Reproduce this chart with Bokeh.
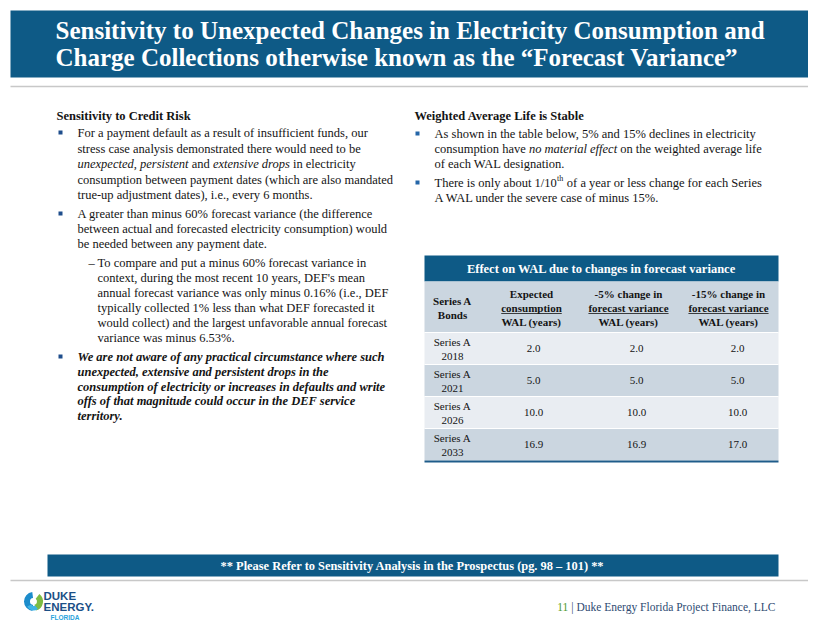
import glob
from bokeh.plotting import figure
from bokeh.models import Range1d
from bokeh.core.properties import value
from bokeh.embed import file_html
from bokeh.resources import INLINE

# ---------------- data ----------------
title_lines = ["Sensitivity to Unexpected Changes in Electricity Consumption and",
               "Charge Collections otherwise known as the \u201cForecast Variance\u201d"]
table_title = "Effect on WAL due to changes in forecast variance"
col_heads = [["Series A", "Bonds"],
             ["Expected", "consumption", "WAL (years)"],
             ["-5% change in", "forecast variance", "WAL (years)"],
             ["-15% change in", "forecast variance", "WAL (years)"]]
bond_years = ["2018", "2021", "2026", "2033"]
wal_expected = [2.0, 5.0, 10.0, 16.9]
wal_minus5 = [2.0, 5.0, 10.0, 16.9]
wal_minus15 = [2.0, 5.0, 10.0, 17.0]
banner_text = "** Please Refer to Sensitivity Analysis in the Prospectus (pg. 98 \u2013 101) **"
footer_num = "11"
footer_text = " | Duke Energy Florida Project Finance, LLC"

SERIF = "Liberation Serif"
NAVY = "#0E5A86"
TXT = "#141414"

# ---------------- text width measurement ----------------
_fonts = {}
try:
    from PIL import ImageFont
    _paths = {
        "normal": "LiberationSerif-Regular.ttf",
        "italic": "LiberationSerif-Italic.ttf",
        "bold": "LiberationSerif-Bold.ttf",
        "bold italic": "LiberationSerif-BoldItalic.ttf",
    }
    for k, fn in _paths.items():
        found = glob.glob("/usr/share/fonts/**/" + fn, recursive=True)
        if found:
            _fonts[k] = found[0]
except Exception:
    ImageFont = None

_reg = dict(zip(" ,.-/()%|", [250, 250, 250, 333, 278, 333, 333, 833, 200]))
_reg.update(dict(zip("abcdefghijklmnopqrstuvwxyz",
                     [444, 500, 444, 500, 444, 333, 500, 500, 278, 278, 500, 278, 778, 500, 500, 500, 500, 333, 389, 278, 500, 500, 722, 500, 500, 444])))
_reg.update(dict(zip("ABCDEFGHIJKLMNOPQRSTUVWXYZ",
                     [722, 667, 667, 722, 611, 556, 722, 722, 333, 389, 722, 611, 889, 722, 722, 556, 722, 667, 556, 611, 722, 722, 944, 722, 722, 611])))
for d in "0123456789":
    _reg[d] = 500
_ita = dict(_reg)
_ita.update(dict(zip("abcdefghijklmnopqrstuvwxyz",
                     [500, 500, 444, 500, 444, 278, 500, 500, 278, 278, 444, 278, 722, 500, 500, 500, 500, 389, 389, 278, 500, 444, 667, 444, 444, 389])))
_bld = dict(_reg)
_bld.update(dict(zip("abcdefghijklmnopqrstuvwxyz",
                     [500, 556, 444, 556, 444, 333, 500, 556, 278, 333, 556, 278, 833, 556, 500, 556, 556, 444, 389, 333, 556, 500, 722, 500, 500, 444])))
_tables = {"normal": _reg, "italic": _ita, "bold": _bld, "bold italic": _bld}


def tw(s, style, size):
    if ImageFont is not None and style in _fonts:
        try:
            return ImageFont.truetype(_fonts[style], 100).getlength(s) * size / 100.0
        except Exception:
            pass
    t = _tables[style]
    return sum(t.get(c, 500) for c in s) * size / 1000.0


# ---------------- figure ----------------
p = figure(width=808, height=621, x_range=Range1d(0, 808), y_range=Range1d(621, 0),
           x_axis_type=None, y_axis_type=None, toolbar_location=None,
           output_backend="svg", min_border=0, outline_line_color=None,
           background_fill_color="white", border_fill_color="white")
p.grid.visible = False


def txt(x, y, s, size, style="normal", color=TXT, align="left", font=SERIF, baseline="middle"):
    if align == "left":
        lead = len(s) - len(s.lstrip(" "))
        if lead:
            x += tw(" " * lead, style, size)
            s = s.lstrip(" ")
    p.text(x=[x], y=[y], text=[s], text_font=value(font), text_font_style=value(style),
           text_font_size=value(f"{size}px"), text_color=value(color),
           text_align=value(align), text_baseline=value(baseline))


def rich(x, y, segs, size, color=TXT):
    cx = x
    for s, style in segs:
        txt(cx, y, s, size, style, color)
        cx += tw(s, style, size)
    return cx


def bullet(x, y, color="#1F4E8C"):
    p.scatter(x=[x], y=[y], marker="square", size=4, fill_color=color, line_color=None)


# header band
p.quad(left=[10], right=[814], top=[10], bottom=[77], fill_color=NAVY, line_color=None)
for i, line in enumerate(title_lines):
    txt(55, [29.5, 57][i], line, 25, "bold", "white")
p.line(x=[10, 814], y=[86, 86], line_color="#C8C8C8", line_width=1.5)

# ---------------- left column ----------------
BS = 12.5
txt(56, 115, "Sensitivity to Credit Risk", BS, "bold")
bullet(60, 132)
L = 77
txt(L, 132, "For a payment default as a result of insufficient funds, our", BS)
txt(L, 148, "stress case analysis demonstrated there would need to be", BS)
rich(L, 163, [("unexpected", "italic"), (", ", "normal"), ("persistent", "italic"),
              (" and ", "normal"), ("extensive drops", "italic"), (" in electricity", "normal")], BS)
txt(L, 179, "consumption between payment dates (which are also mandated", BS)
txt(L, 194, "true-up adjustment dates), i.e., every 6 months.", BS)
bullet(60, 213)
txt(L, 213, "A greater than minus 60% forecast variance (the difference", BS)
txt(L, 228, "between actual and forecasted electricity consumption) would", BS)
txt(L, 243, "be needed between any payment date.", BS)
txt(88, 262, "\u2013", BS)
S = 97
sub = ["To compare and put a minus 60% forecast variance in",
       "context, during the most recent 10 years, DEF's mean",
       "annual forecast variance was only minus 0.16% (i.e., DEF",
       "typically collected 1% less than what DEF forecasted it",
       "would collect) and the largest unfavorable annual forecast",
       "variance was minus 6.53%."]
for i, s in enumerate(sub):
    txt(S, [262, 277, 292, 307, 322, 337][i], s, BS)
bullet(60, 356)
b3 = ["We are not aware of any practical circumstance where such",
      "unexpected, extensive and persistent drops in the",
      "consumption of electricity or increases in defaults and write",
      "offs of that magnitude could occur in the DEF service",
      "territory."]
for i, s in enumerate(b3):
    txt(L, [356, 371, 386, 400, 415][i], s, BS, "bold italic")

# ---------------- right column ----------------
txt(414, 115, "Weighted Average Life is Stable", BS, "bold")
R = 434
bullet(417, 133, "#2566A8")
txt(R, 133, "As shown in the table below, 5% and 15% declines in electricity", BS)
rich(R, 148, [("consumption have ", "normal"), ("no material effect", "italic"),
              (" on the weighted average life", "normal")], BS)
txt(R, 163, "of each WAL designation.", BS)
bullet(417, 182, "#2566A8")
xe = rich(R, 182, [("There is only about 1/10", "normal")], BS)
txt(xe + 0.3, 178, "th", 8)
txt(xe + tw("th", "normal", 8) + 0.8, 182, " of a year or less change for each Series", BS)
txt(R, 197, "A WAL under the severe case of minus 15%.", BS)

# ---------------- table ----------------
TL, TR = 424, 778
p.quad(left=[TL], right=[TR], top=[255], bottom=[281], fill_color=NAVY, line_color=None)
txt((TL + TR) / 2, 268, table_title, 12.5, "bold", "white", "center")
p.quad(left=[TL], right=[TR], top=[281], bottom=[332], fill_color="#CBD6E0", line_color=None)
head_x = [452, 531, 628, 728]
for ci, lines in enumerate(col_heads):
    ys = [300, 314] if len(lines) == 2 else [293, 307, 321]
    for li, s in enumerate(lines):
        txt(head_x[ci], ys[li], s, 11, "bold", TXT, "center")
        if li == 1 and len(lines) == 3:
            w = tw(s, "bold", 11)
            p.line(x=[head_x[ci] - w / 2, head_x[ci] + w / 2], y=[ys[li] + 6, ys[li] + 6],
                   line_color=TXT, line_width=0.8)

row_top = 332
row_h = 32
vals_x = [533, 636, 737]
for ri, yr in enumerate(bond_years):
    t = row_top + ri * row_h
    p.quad(left=[TL], right=[TR], top=[t], bottom=[t + row_h],
           fill_color="#E9EDF2" if ri % 2 == 0 else "#CBD6E0", line_color=None)
    p.line(x=[TL, TR], y=[t, t], line_color="white", line_width=1)
    cy = t + row_h / 2
    txt(head_x[0], cy - 7, "Series A", 11, "normal", TXT, "center")
    txt(head_x[0], cy + 8, yr, 11, "normal", TXT, "center")
    for vi, arr in enumerate([wal_expected, wal_minus5, wal_minus15]):
        txt(vals_x[vi], cy, f"{arr[ri]:.1f}", 11, "normal", TXT, "center")
p.line(x=[TL, TR], y=[row_top + 4 * row_h + 1, row_top + 4 * row_h + 1],
       line_color="#1F5C8A", line_width=2)

# ---------------- bottom banner ----------------
p.quad(left=[47], right=[778], top=[554], bottom=[576], fill_color=NAVY, line_color=None)
txt(412, 565.5, banner_text, 12.4, "bold", "white", "center")
p.line(x=[10, 814], y=[580, 580], line_color="#C8C8C8", line_width=1.5)

# footer
FS = 11.5
fw = tw(footer_text, "normal", FS)
nw = tw(footer_num, "normal", FS)
txt(775 - fw - nw, 606, footer_num, FS, "normal", "#4E9A2E")
txt(775 - fw, 606, footer_text, FS, "normal", "#2E4A72")

# logo
p.annular_wedge(x=[33], y=[601], inner_radius=3.5, outer_radius=9.5,
                start_angle=[1.7], end_angle=[4.6], fill_color="#1C8CCB", line_color=None,
                direction="anticlock")
p.annular_wedge(x=[33], y=[601], inner_radius=3.5, outer_radius=9.5,
                start_angle=[5.0], end_angle=[0.9], fill_color="#7DBB42", line_color=None,
                direction="anticlock")
p.annular_wedge(x=[33], y=[603], inner_radius=2.5, outer_radius=7,
                start_angle=[3.6], end_angle=[5.4], fill_color="#3FB4E5", line_color=None,
                direction="anticlock")
txt(43, 595, "DUKE", 11.5, "bold", "#1B4F86", "left", "Liberation Sans")
txt(43, 606.5, "ENERGY.", 11.5, "bold", "#1B4F86", "left", "Liberation Sans")
txt(50, 616.5, "FLORIDA", 6.5, "bold", "#2AA3DC", "left", "Liberation Sans")

open("out.html", "w").write(file_html(p, INLINE))
